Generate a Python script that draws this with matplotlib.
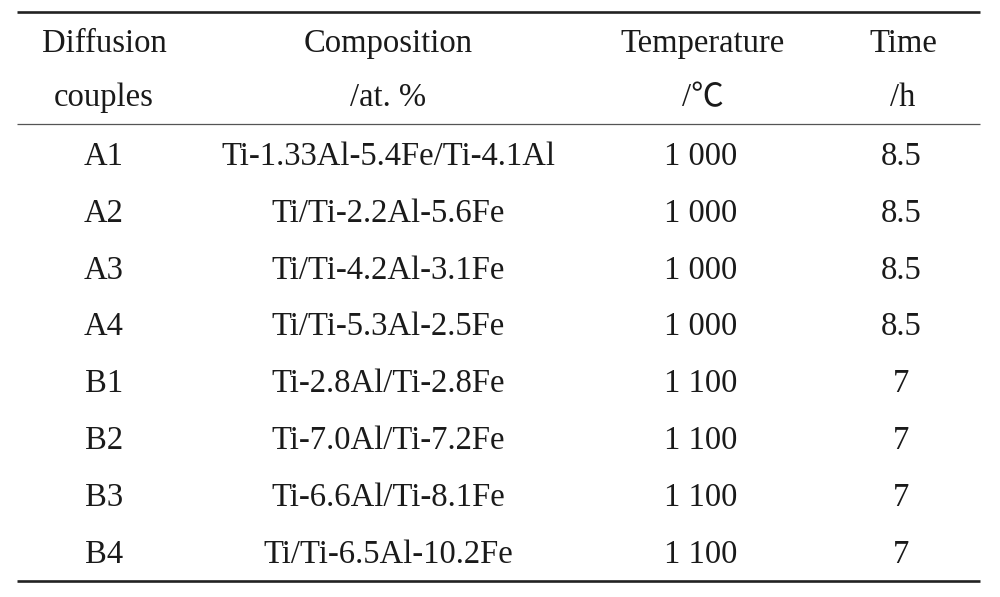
import matplotlib.pyplot as plt

couples = ['A1', 'A2', 'A3', 'A4', 'B1', 'B2', 'B3', 'B4']
compositions = ['Ti-1.33Al-5.4Fe/Ti-4.1Al', 'Ti/Ti-2.2Al-5.6Fe', 'Ti/Ti-4.2Al-3.1Fe',
                'Ti/Ti-5.3Al-2.5Fe', 'Ti-2.8Al/Ti-2.8Fe', 'Ti-7.0Al/Ti-7.2Fe',
                'Ti-6.6Al/Ti-8.1Fe', 'Ti/Ti-6.5Al-10.2Fe']
temperatures = ['1 000', '1 000', '1 000', '1 000', '1 100', '1 100', '1 100', '1 100']
times = ['8.5', '8.5', '8.5', '8.5', '7', '7', '7', '7']
header1 = ['Diffusion', 'Composition', 'Temperature', 'Time']
header2 = ['couples', '/at. %', '/\u2103', '/h']

plt.rcParams['font.family'] = ['Liberation Serif', 'Noto Sans CJK JP', 'DejaVu Serif']

fig = plt.figure(figsize=(10, 5.97), dpi=100)
ax = fig.add_axes([0, 0, 1, 1])
ax.set_xlim(0, 1000)
ax.set_ylim(597, 0)
ax.axis('off')

col_x = [104, 388, 703, 903]
fs = 23.5
col = '#1a1a1a'

# header rows (baselines)
for i, (h1, h2) in enumerate(zip(header1, header2)):
    ax.text(col_x[i], 52, h1, ha='center', va='baseline', fontsize=fs, color=col)
    ax.text(col_x[i], 106, h2, ha='center', va='baseline', fontsize=fs, color=col)

# body rows
row_y0, row_dy = 165, 56.8
for r in range(len(couples)):
    y = row_y0 + r * row_dy
    vals = [couples[r], compositions[r], temperatures[r], times[r]]
    for i, v in enumerate(vals):
        x = col_x[i] - 2 if i >= 2 else col_x[i]
        ax.text(x, y, v, ha='center', va='baseline', fontsize=fs, color=col)

# rules
ax.hlines(11.5, 17, 980, color='#222222', lw=1.9)
ax.hlines(124, 17, 980, color='#555555', lw=0.9)
ax.hlines(581, 17, 980, color='#222222', lw=1.9)

fig.savefig('out.png', dpi=100)
